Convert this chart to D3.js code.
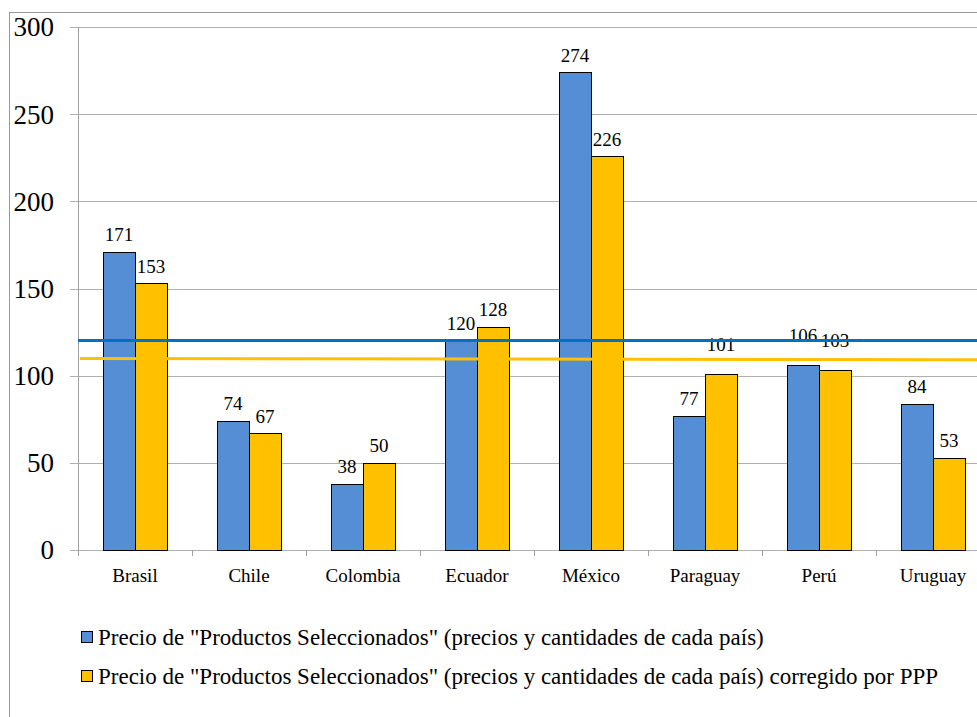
<!DOCTYPE html>
<html><head><meta charset="utf-8">
<script src="https://cdn.jsdelivr.net/npm/d3@7/dist/d3.min.js"></script>
<style>body{margin:0;background:#fff}svg{display:block}svg text{font-family:'Liberation Serif','Times New Roman',serif;fill:#000}</style>
</head><body><div id="chart"></div>
<script>
const categories = ["Brasil","Chile","Colombia","Ecuador","México","Paraguay","Perú","Uruguay"];
const seriesA = [171,74,38,120,274,77,106,84];
const seriesB = [153,67,50,128,226,101,103,53];
const seriesNames = ['Precio de "Productos Seleccionados" (precios y cantidades de cada país)',
                     'Precio de "Productos Seleccionados" (precios y cantidades de cada país) corregido por PPP'];
const avgA = [120.2,120.2];
const avgB = [109.8,109.2];
const yTicks = [0,50,100,150,200,250,300];
// manual label lifts (px) as in the reference
const liftA = {"Perú":13};
const liftB = {"Paraguay":12,"Perú":13};

const W=977,H=717;
const colA="#558ED5", colB="#FFC000", lineA="#0070C0", lineB="#FFC000";
const svg=d3.select("#chart").append("svg").attr("width",W).attr("height",H);

svg.append("rect").attr("x",9.5).attr("y",12.5).attr("width",1100).attr("height",900)
  .attr("fill","none").attr("stroke","#999");

const pL=78, pR=990, pT=27, pB=550;
const x=d3.scaleBand().domain(categories).range([pL,pR]).paddingInner(0).paddingOuter(0);
const y=d3.scaleLinear().domain([0,300]).range([pB,pT]);
const bw=32;

// gridlines
svg.append("g").selectAll("line").data(yTicks).join("line")
  .attr("x1",pL-8).attr("x2",pR).attr("y1",d=>Math.round(y(d))+0.5).attr("y2",d=>Math.round(y(d))+0.5)
  .attr("stroke","#b0b0b0").attr("stroke-width",1);
// y axis line
svg.append("line").attr("x1",pL+0.5).attr("x2",pL+0.5).attr("y1",pT).attr("y2",pB)
  .attr("stroke","#a0a0a0");
// x ticks
svg.append("g").selectAll("line").data(categories.concat(["_end"])).join("line")
  .attr("x1",(d,i)=>Math.round(pL+i*x.bandwidth())+0.5).attr("x2",(d,i)=>Math.round(pL+i*x.bandwidth())+0.5)
  .attr("y1",pB).attr("y2",pB+6).attr("stroke","#a0a0a0");
// y labels
svg.append("g").selectAll("text").data(yTicks).join("text")
  .attr("x",54).attr("y",d=>y(d)).attr("dy","0.35em").attr("text-anchor","end")
  .attr("font-size",27).text(d=>d);
// x labels
svg.append("g").selectAll("text").data(categories).join("text")
  .attr("x",d=>x(d)+x.bandwidth()/2).attr("y",pB+32).attr("text-anchor","middle")
  .attr("font-size",19).text(d=>d);

const g=svg.append("g");
categories.forEach((c,i)=>{
  const cx=x(c)+x.bandwidth()/2;
  [[seriesA[i],colA,cx-bw],[seriesB[i],colB,cx]].forEach(([v,col,bx])=>{
    g.append("rect").attr("x",Math.round(bx)+0.5).attr("y",Math.round(y(v))+0.5)
      .attr("width",bw).attr("height",Math.round(y(0))-Math.round(y(v)))
      .attr("fill",col).attr("stroke","#000").attr("stroke-width",1);
  });
});
// average lines
svg.append("line").attr("x1",pL).attr("x2",W).attr("y1",y(avgA[0])).attr("y2",y(avgA[1]))
  .attr("stroke",lineA).attr("stroke-width",3);
svg.append("line").attr("x1",pL+2).attr("x2",W).attr("y1",y(avgB[0])).attr("y2",y(avgB[1]))
  .attr("stroke",lineB).attr("stroke-width",3);
// value labels
categories.forEach((c,i)=>{
  const cx=x(c)+x.bandwidth()/2;
  [[seriesA[i],cx-bw/2,liftA[c]||0],[seriesB[i],cx+bw/2,liftB[c]||0]].forEach(([v,lx,lift])=>{
    g.append("text").attr("x",lx).attr("y",y(v)-10.5-lift).attr("text-anchor","middle")
      .attr("font-size",19).text(v);
  });
});
// legend
const leg=svg.append("g");
[[colA,seriesNames[0],645],[colB,seriesNames[1],684]].forEach(([col,name,ly])=>{
  leg.append("rect").attr("x",81.5).attr("y",ly-13.5).attr("width",11).attr("height",11)
    .attr("fill",col).attr("stroke","#000").attr("stroke-width",1);
  leg.append("text").attr("x",98).attr("y",ly)
    .attr("font-size",23).text(name);
});
</script></body></html>
